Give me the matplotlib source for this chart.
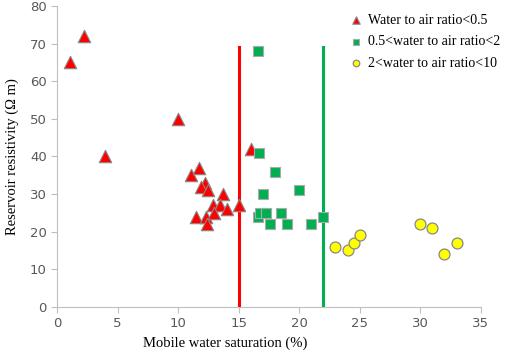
import matplotlib
matplotlib.use("Agg")
from matplotlib import pyplot as plt

# water to air ratio < 0.5
red_x = [1.1, 2.2, 4.0, 10.0, 11.1, 11.7, 12.2, 11.9, 12.5, 13.7, 12.9, 13.5, 14.0, 15.0, 11.5, 12.3, 13.0, 12.4, 16.0]
red_y = [65, 72, 40, 50, 35, 37, 33, 32, 31, 30, 27, 27, 26, 27, 24, 24, 25, 22, 42]

# 0.5 < water to air ratio < 2
green_x = [16.6, 16.7, 18.0, 17.0, 20.0, 16.6, 16.8, 17.3, 18.5, 17.6, 19.0, 21.0, 22.0]
green_y = [68, 41, 36, 30, 31, 24, 25, 25, 25, 22, 22, 22, 24]

# 2 < water to air ratio < 10
yellow_x = [23.0, 24.0, 24.5, 25.0, 30.0, 31.0, 33.0, 32.0]
yellow_y = [16, 15, 17, 19, 22, 21, 17, 14]

serif = 'Liberation Serif'
grey = '#bfbfbf'

fig = plt.figure(figsize=(5.05, 3.56), dpi=100)
ax = fig.add_axes([0.113, 0.138, 0.839, 0.845])

ax.plot([15, 15], [0, 69], color='#ff0000', lw=2.2, zorder=1)
ax.plot([22, 22], [0, 69], color='#00b050', lw=2.2, zorder=1)

ax.scatter(red_x, red_y, marker='^', s=80, color='#ff0000', edgecolor='#888888', lw=0.8,
           label='Water to air ratio<0.5', zorder=3)
ax.scatter(green_x, green_y, marker='s', s=62, color='#00b050', edgecolor='#aaaaaa', lw=0.8,
           label='0.5<water to air ratio<2', zorder=3)
ax.scatter(yellow_x, yellow_y, marker='o', s=62, color='#ffff00', edgecolor='#888888', lw=0.9,
           label='2<water to air ratio<10', zorder=3)

ax.set_xlim(0, 35)
ax.set_ylim(0, 80)
ax.set_xticks(range(0, 36, 5))
ax.set_yticks(range(0, 81, 10))
for s in ['top', 'right']:
    ax.spines[s].set_visible(False)
for s in ['left', 'bottom']:
    ax.spines[s].set_color(grey)
ax.tick_params(colors=grey, labelcolor='#595959', labelsize=9.5, length=4, direction='out')

ax.set_xlabel('Mobile water saturation (%)', fontfamily=serif, fontsize=10.5)
ax.xaxis.set_label_coords(0.396, -0.10)
ax.set_ylabel('Reservoir resistivity (\u03a9 m)', fontfamily=serif, fontsize=10.5, labelpad=8)

ax.legend(loc='upper left', bbox_to_anchor=(0.689, 0.975), frameon=False, markerscale=0.6,
          prop={'family': serif, 'size': 10}, handletextpad=0.4, labelspacing=0.62,
          handlelength=1.0, borderpad=0, borderaxespad=0)

fig.savefig('out.png', dpi=100)
